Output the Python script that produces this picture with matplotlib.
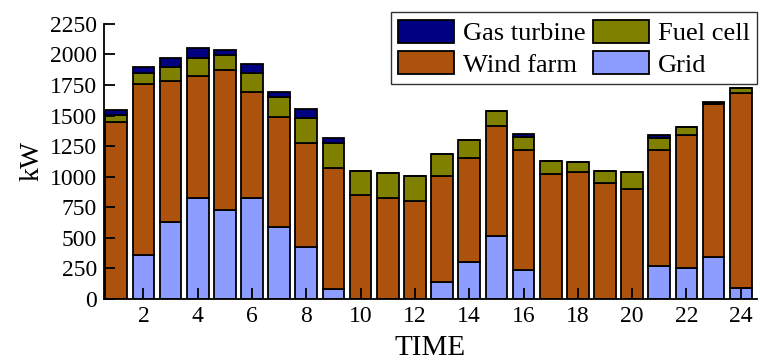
import matplotlib
matplotlib.use("Agg")
import matplotlib.pyplot as plt
import numpy as np

hours = np.arange(1, 25)

# kW per source
grid = [0, 356, 631, 824, 724, 824, 588, 427, 79, 0, 0, 0,
        141, 305, 514, 239, 0, 0, 0, 0, 267, 250, 340, 87]
wind = [1444, 1404, 1151, 1001, 1145, 865, 900, 849, 995, 849, 827, 802,
        863, 846, 903, 977, 1023, 1042, 949, 903, 954, 1094, 1257, 1594]
fuel = [60, 84, 114, 147, 125, 155, 166, 204, 202, 195, 204, 202,
        179, 146, 118, 106, 106, 76, 95, 136, 96, 62, 4, 41]
gas = [38, 52, 73, 84, 43, 79, 41, 76, 38, 0, 0, 0,
       0, 0, 5, 24, 0, 0, 0, 0, 21, 0, 12, 0]

plt.rcParams["font.family"] = ["Liberation Serif", "DejaVu Serif"]
plt.rcParams["font.size"] = 17

fig = plt.figure(figsize=(7.6, 3.61), dpi=100)
ax = fig.add_axes([0.137, 0.172, 0.859, 0.762])

w = 0.8
kw = dict(width=w, edgecolor="black", linewidth=1.3)
b_grid = ax.bar(hours, grid, color="#8C9CFF", label="Grid", **kw)
bottom = np.array(grid)
b_wind = ax.bar(hours, wind, bottom=bottom, color="#AD520C", label="Wind farm", **kw)
bottom = bottom + np.array(wind)
b_fuel = ax.bar(hours, fuel, bottom=bottom, color="#808000", label="Fuel cell", **kw)
bottom = bottom + np.array(fuel)
b_gas = ax.bar(hours, gas, bottom=bottom, color="#000080", label="Gas turbine", **kw)

ax.set_xlim(0.55, 24.6)
ax.set_ylim(0, 2250)
ax.set_xticks(np.arange(2, 25, 2))
ax.set_yticks(np.arange(0, 2251, 250))
ax.tick_params(direction="in", length=8, width=1.3, labelsize=17, pad=5)
ax.set_axisbelow(False)

for s in ["top", "right"]:
    ax.spines[s].set_visible(False)
for s in ["left", "bottom"]:
    ax.spines[s].set_linewidth(1.3)

ax.set_xlabel("TIME", fontsize=21, labelpad=6)
ax.set_ylabel("kW", fontsize=20, labelpad=4)

leg = ax.legend(handles=[b_gas, b_wind, b_fuel, b_grid], ncol=2,
                loc="upper right", bbox_to_anchor=(1.021, 1.09),
                fancybox=False, edgecolor="#333333", framealpha=1,
                handlelength=2.1, handleheight=1.0, columnspacing=0.3,
                handletextpad=0.35, labelspacing=0.2, borderpad=0.28,
                fontsize=19)
leg.get_frame().set_linewidth(1.0)

fig.savefig("out.png", dpi=100)
